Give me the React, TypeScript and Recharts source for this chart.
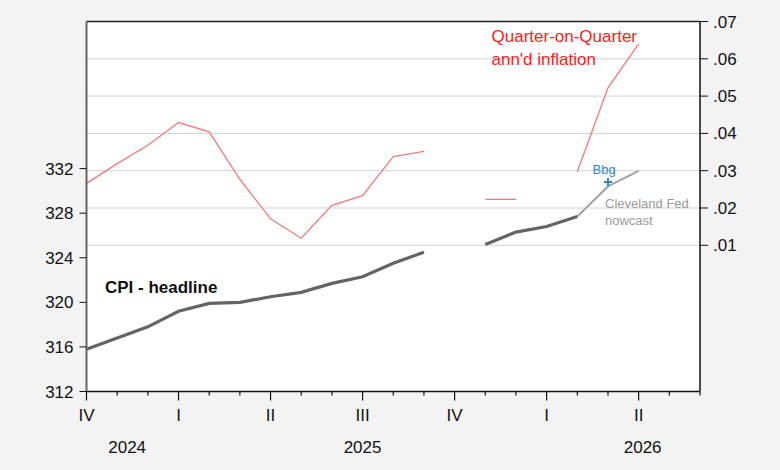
import React from "react";
import {
  ComposedChart,
  Line,
  XAxis,
  YAxis,
  CartesianGrid,
  ReferenceLine,
} from "recharts";

// monthly, Oct 2024 .. Jun 2026
const months = [
  "2024-10", "2024-11", "2024-12",
  "2025-01", "2025-02", "2025-03", "2025-04", "2025-05", "2025-06",
  "2025-07", "2025-08", "2025-09", "2025-10", "2025-11", "2025-12",
  "2026-01", "2026-02", "2026-03", "2026-04", "2026-05", "2026-06",
];

const quarterLabels = [
  "IV", "", "", "I", "", "", "II", "", "", "III", "", "", "IV", "", "", "I", "", "", "II", "", "",
];
const yearLabels = [
  "", "2024", "", "", "", "", "", "", "", "2025", "", "", "", "", "", "", "", "", "2026", "", "",
];

// CPI headline (left axis), Oct 2025 missing
const cpi = [
  315.8, 316.8, 317.8, 319.2, 319.9, 320.0, 320.5, 320.9, 321.7, 322.3, 323.5, 324.5,
  null, 325.2, 326.3, 326.8, 327.7, null, null, null, null,
];
// Cleveland Fed nowcast (left axis)
const nowcast = [
  null, null, null, null, null, null, null, null, null, null, null, null,
  null, null, null, null, 327.7, 330.4, 331.8, null, null,
];
// Bloomberg consensus (left axis)
const bbg = [
  null, null, null, null, null, null, null, null, null, null, null, null,
  null, null, null, null, null, 330.8, null, null, null,
];
// quarter-on-quarter annualized inflation (right axis)
const qoq = [
  0.0266, 0.0319, 0.0368, 0.0429, 0.0404, 0.0277, 0.0171, 0.0119, 0.0207, 0.0233, 0.0338, 0.0352,
  null, 0.0223, 0.0223, null, 0.0297, 0.0522, 0.064, null, null,
];

const leftTicks = [312, 316, 320, 324, 328, 332];
const rightTicks = [0.01, 0.02, 0.03, 0.04, 0.05, 0.06, 0.07];

const data = months.map((m, i) => ({
  i,
  month: m,
  cpi: cpi[i],
  nowcast: nowcast[i],
  bbg: bbg[i],
  qoq: qoq[i],
}));

const FONT = "'Liberation Sans', Arial, sans-serif";
const yearOffset: Record<string, number> = { "2024": 10, "2025": 0, "2026": 4 };

const MonthTick = (props: any) => {
  const { x, y, payload } = props;
  const idx = payload.value as number;
  const q = quarterLabels[idx];
  const yr = yearLabels[idx];
  const major = q !== "";
  return (
    <g>
      <line x1={x} x2={x} y1={y} y2={y + (major ? 9 : 4)} stroke="#111" strokeWidth={1.2} />
      {major && (
        <text x={x} y={y + 29} textAnchor="middle" fontSize={17} fill="#111" fontFamily={FONT}>
          {q}
        </text>
      )}
      {yr && (
        <text x={x + yearOffset[yr]} y={y + 61} textAnchor="middle" fontSize={17} fill="#111" fontFamily={FONT}>
          {yr}
        </text>
      )}
    </g>
  );
};

const CrossDot = (props: any) => {
  const { cx, cy, index } = props;
  if (cx == null || cy == null || Number.isNaN(cy)) return <g key={index} />;
  return (
    <g key={index}>
      <line x1={cx - 4} x2={cx + 4} y1={cy} y2={cy} stroke="#2f86c8" strokeWidth={2} />
      <line x1={cx} x2={cx} y1={cy - 4} y2={cy + 4} stroke="#2f86c8" strokeWidth={2} />
    </g>
  );
};

export default function App() {
  return (
    <div
      style={{
        position: "absolute",
        left: 0,
        top: 0,
        width: 780,
        height: 470,
        background: "#f3f3f3",
        fontFamily: FONT,
      }}
    >
      <ComposedChart
        width={780}
        height={470}
        data={data}
        margin={{ top: 21.5, right: 0, bottom: 0, left: 0 }}
      >
        <CartesianGrid horizontal={false} vertical={false} fill="#ffffff" />
        {rightTicks.slice(0, -1).map((t) => (
          <ReferenceLine key={t} yAxisId="right" y={t} stroke="#d2d2d2" strokeWidth={1} />
        ))}
        <ReferenceLine yAxisId="right" y={0.07} stroke="#222" strokeWidth={1.5} />
        <XAxis
          dataKey="i"
          type="number"
          domain={[0, 20]}
          ticks={months.map((_, i) => i)}
          interval={0}
          height={78.5}
          tickSize={0}
          tickMargin={0}
          tickLine={false}
          axisLine={{ stroke: "#111", strokeWidth: 1.5 }}
          tick={<MonthTick />}
        />
        <YAxis
          yAxisId="left"
          width={86.5}
          domain={[312, 345.2]}
          ticks={leftTicks}
          allowDataOverflow
          tickSize={7}
          tickMargin={6}
          axisLine={{ stroke: "#666", strokeWidth: 2 }}
          tickLine={{ stroke: "#111" }}
          tick={{ fill: "#111", fontSize: 17, fontFamily: FONT }}
        />
        <YAxis
          yAxisId="right"
          orientation="right"
          width={80}
          domain={[-0.0292, 0.07]}
          ticks={rightTicks}
          allowDataOverflow
          tickSize={8}
          tickMargin={5}
          tickFormatter={(v: number) => v.toFixed(2).replace(/^0/, "")}
          axisLine={{ stroke: "#111", strokeWidth: 1.5 }}
          tickLine={{ stroke: "#111" }}
          tick={{ fill: "#111", fontSize: 17, fontFamily: FONT, textAnchor: "start" }}
        />
        <Line
          yAxisId="right"
          dataKey="qoq"
          type="linear"
          stroke="#f27a7a"
          strokeWidth={1.3}
          dot={false}
          connectNulls={false}
          isAnimationActive={false}
        />
        <Line
          yAxisId="left"
          dataKey="nowcast"
          type="linear"
          stroke="#a3a3a3"
          strokeWidth={2}
          dot={false}
          isAnimationActive={false}
        />
        <Line
          yAxisId="left"
          dataKey="cpi"
          type="linear"
          stroke="#646464"
          strokeWidth={3.2}
          dot={false}
          connectNulls={false}
          isAnimationActive={false}
        />
        <Line
          yAxisId="left"
          dataKey="bbg"
          stroke="none"
          dot={<CrossDot />}
          activeDot={false}
          isAnimationActive={false}
        />
      </ComposedChart>
      <svg
        width={780}
        height={470}
        style={{ position: "absolute", left: 0, top: 0, pointerEvents: "none" }}
        fontFamily={FONT}
      >
        <text x={491.5} y={42} fontSize={17} fill="#ff1a1a">Quarter-on-Quarter</text>
        <text x={491.5} y={64.5} fontSize={17} fill="#ff1a1a">ann'd inflation</text>
        <text x={592.5} y={174} fontSize={13} fill="#2f86c8">Bbg</text>
        <text x={605} y={207.5} fontSize={13} fill="#9a9a9a">Cleveland Fed</text>
        <text x={605} y={224.5} fontSize={13} fill="#9a9a9a">nowcast</text>
        <text x={105} y={292.5} fontSize={17} fontWeight="bold" fill="#111">CPI - headline</text>
      </svg>
    </div>
  );
}
